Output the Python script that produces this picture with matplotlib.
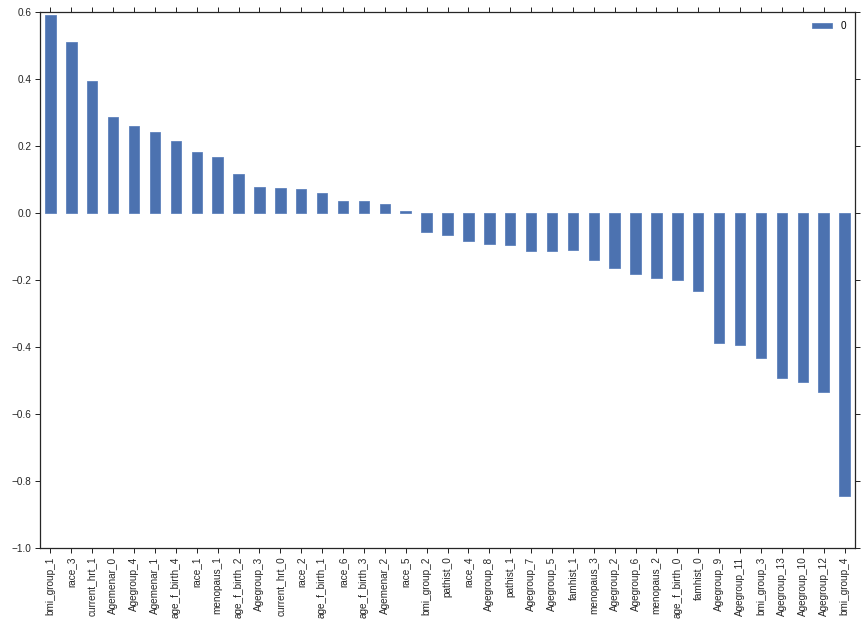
import numpy as np
import matplotlib
matplotlib.use("Agg")
import matplotlib.pyplot as plt

# ========== DATA ==========
labels = ['bmi_group_1', 'race_3', 'current_hrt_1', 'Agemenar_0', 'Agegroup_4',
          'Agemenar_1', 'age_f_birth_4', 'race_1', 'menopaus_1', 'age_f_birth_2',
          'Agegroup_3', 'current_hrt_0', 'race_2', 'age_f_birth_1', 'race_6',
          'age_f_birth_3', 'Agemenar_2', 'race_5', 'bmi_group_2', 'pathist_0',
          'race_4', 'Agegroup_8', 'pathist_1', 'Agegroup_7', 'Agegroup_5',
          'famhist_1', 'menopaus_3', 'Agegroup_2', 'Agegroup_6', 'menopaus_2',
          'age_f_birth_0', 'famhist_0', 'Agegroup_9', 'Agegroup_11', 'bmi_group_3',
          'Agegroup_13', 'Agegroup_10', 'Agegroup_12', 'bmi_group_4']
values = [0.592, 0.509, 0.395, 0.288, 0.261,
          0.243, 0.214, 0.181, 0.166, 0.115,
          0.077, 0.074, 0.073, 0.061, 0.037,
          0.037, 0.028, 0.005, -0.058, -0.067,
          -0.085, -0.094, -0.097, -0.112, -0.112,
          -0.111, -0.140, -0.164, -0.182, -0.194,
          -0.200, -0.233, -0.388, -0.394, -0.432,
          -0.492, -0.504, -0.534, -0.844]
series_name = '0'

# ========== STYLE ==========
plt.rcParams['font.family'] = ['Liberation Sans', 'DejaVu Sans']
plt.rcParams['font.size'] = 10
dark = '#262626'

fig = plt.figure(figsize=(861 / 72, 631 / 72), dpi=72)
ax = fig.add_axes([40 / 861, 1 - 548 / 631, 815 / 861, 536 / 631])

x = np.arange(len(labels))
ax.bar(x, values, width=0.5, color='#4C72B0', edgecolor='#5A7FBB',
       linewidth=0.8, label=series_name)

ax.set_xlim(-0.5, len(labels) - 0.5)
ax.set_ylim(-1.0, 0.6)
ax.set_yticks(np.arange(-1.0, 0.61, 0.2))
ax.set_yticklabels(['\u22121.0', '\u22120.8', '\u22120.6', '\u22120.4', '\u22120.2',
                    '0.0', '0.2', '0.4', '0.6'])
ax.set_xticks(x)
ax.set_xticklabels(labels, rotation=90)

for s in ax.spines.values():
    s.set_color(dark)
    s.set_linewidth(1.25)
ax.tick_params(direction='out', length=5, width=1.0, color=dark,
               labelcolor=dark, top=True, right=True, labelsize=10)

ax.legend(loc='upper right', frameon=False, handlelength=2.0, handleheight=0.5,
          fontsize=10)

fig.savefig('out.png', dpi=72)
